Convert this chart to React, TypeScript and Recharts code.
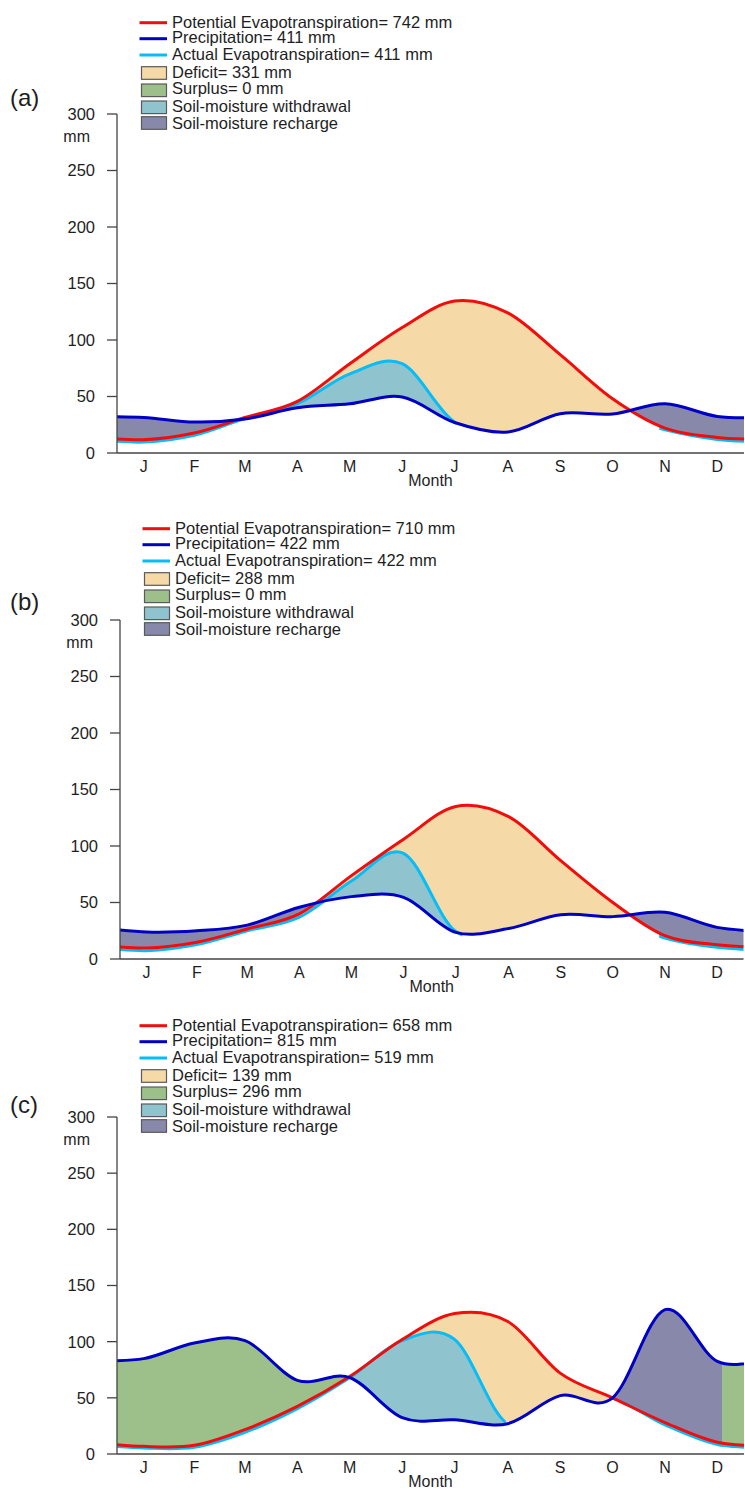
import { ComposedChart, Area, Line, XAxis, YAxis, ReferenceArea } from 'recharts'

const MONTHS = ['J', 'F', 'M', 'A', 'M', 'J', 'J', 'A', 'S', 'O', 'N', 'D']
const MONTH_START = [0, 31, 59, 90, 120, 151, 181, 212, 243, 273, 304, 334, 365]
const MID_DAY = [15.5, 45, 74.5, 105, 135.5, 166, 196.5, 227.5, 258, 288.5, 319, 349.5]
const Y_TICKS = [0, 50, 100, 150, 200, 250, 300]

// (a)
const PET_A = [11.8, 17.7, 31.5, 45.7, 79, 111, 134.5, 124, 87, 48, 22, 13.8]
const PREC_A = [31.5, 27.4, 30, 40, 43.5, 49.5, 27, 18.6, 34.8, 34.5, 43.6, 32.4]
const AET_A = [9.7, 15.6, 30.5, 43.6, 70, 79, 27.5, 18.6, 34.8, 34.5, 20.5, 12]
const TOTALS_A = [742, 411, 411, 331, 0]
// day ranges: crossings of P and PET, end of soil-moisture withdrawal;
// aet: false where the AET trace sits hidden under another line
const ZONES_A = [
  { kind: 'recharge', from: 0, to: 66 },
  { kind: 'withdraw', from: 66, to: 197 },
  { kind: 'deficit', from: 197, to: 302, aet: false },
  { kind: 'recharge', from: 302, to: 316, aet: false },
  { kind: 'recharge', from: 316, to: 365 },
]

// (b)
const PET_B = [9.7, 14.8, 26.6, 39.9, 73.8, 106, 135, 126, 87, 50, 20.6, 12.7]
const PREC_B = [23.9, 25, 30, 45.8, 55.2, 54.6, 23.6, 27, 39.2, 37.5, 41.3, 28]
const AET_B = [7.4, 12.7, 25, 37, 69, 93.5, 24.5, 27, 39.2, 37.5, 18.5, 10.3]
const TOTALS_B = [710, 422, 422, 288, 0]
const ZONES_B = [
  { kind: 'recharge', from: 0, to: 112.5 },
  { kind: 'withdraw', from: 112.5, to: 200 },
  { kind: 'deficit', from: 200, to: 300.5, aet: false },
  { kind: 'recharge', from: 300.5, to: 316, aet: false },
  { kind: 'recharge', from: 316, to: 365 },
]

// (c)
const PET_C = [6.8, 7.7, 21.7, 42.4, 69, 102, 125, 118, 72, 50, 28, 10.4]
const PREC_C = [84.9, 98.8, 101, 65.6, 68, 32.3, 30.5, 27, 52, 50, 128.5, 82.5]
const AET_C = [5.3, 6, 19.3, 40.4, 68, 101, 102, 27, 52, 49.5, 26, 8.5]
const TOTALS_C = [658, 815, 519, 139, 296]
const ZONES_C = [
  { kind: 'surplus', from: 0, to: 134 },
  { kind: 'withdraw', from: 134, to: 226 },
  { kind: 'deficit', from: 226, to: 287, aet: false },
  { kind: 'recharge', from: 287, to: 352.5 },
  { kind: 'surplus', from: 352.5, to: 365 },
]

const PET_COLOR = '#f20d0d'
const PREC_COLOR = '#0000c4'
const AET_COLOR = '#08bdf7'
const DEFICIT = '#f5d9a7'
const SURPLUS = '#9dc08b'
const WITHDRAWAL = '#8fc4ce'
const RECHARGE = '#8889aa'
const AXIS = '#444'
const TEXT = '#1e1e1e'

type Zone = { kind: string; from: number; to: number; aet?: boolean }

// Catmull-Rom through the points (d3 curveCardinal, tension 0), written out since d3 is not importable
function catmullRom(context: any) {
  let xs: number[] = []
  let ys: number[] = []
  let line = NaN
  return {
    areaStart() { line = 0 },
    areaEnd() { line = NaN },
    lineStart() { xs = []; ys = [] },
    lineEnd() {
      const n = xs.length
      if (n) {
        if (line) context.lineTo(xs[0], ys[0])
        else context.moveTo(xs[0], ys[0])
        for (let i = 0; i < n - 1; i++) {
          const p = Math.max(i - 1, 0)
          const q = Math.min(i + 2, n - 1)
          context.bezierCurveTo(
            xs[i] + (xs[i + 1] - xs[p]) / 6, ys[i] + (ys[i + 1] - ys[p]) / 6,
            xs[i + 1] - (xs[q] - xs[i]) / 6, ys[i + 1] - (ys[q] - ys[i]) / 6,
            xs[i + 1], ys[i + 1],
          )
        }
      }
      if (line || (line !== 0 && n === 1)) context.closePath()
      line = 1 - line
    },
    point(x: number, y: number) { xs.push(+x); ys.push(+y) },
  }
}

// Dec copied in front of Jan and Jan after Dec, so the curves run across the year ends
function buildRows(pet: number[], prec: number[], aet: number[]) {
  const order = [11, 0, 1, 2, 3, 4, 5, 6, 7, 8, 9, 10, 11, 0]
  return order.map((m, i) => {
    const shift = i === 0 ? -365 : i === 13 ? 365 : 0
    return { day: MID_DAY[m] + shift, pet: pet[m], prec: prec[m], aet: aet[m] }
  })
}

// the reference area is only used to get the zone rectangle in pixels, as a clip
// (widened by a hair so neighbouring zones leave no seam)
const clipShape = (id: string) => (props: any) => (
  <defs>
    <clipPath id={id}>
      <rect x={props.x - 0.6} y={props.y - 4} width={props.width + 1.2} height={props.height + 8} />
    </clipPath>
  </defs>
)

function LegendBlock({ left, totals }: { left: number; totals: number[] }) {
  const lines = [
    { color: PET_COLOR, text: `Potential Evapotranspiration= ${totals[0]} mm`, y: 22.7, ty: 27.6 },
    { color: PREC_COLOR, text: `Precipitation= ${totals[1]} mm`, y: 38.7, ty: 43 },
    { color: AET_COLOR, text: `Actual Evapotranspiration= ${totals[2]} mm`, y: 55, ty: 59.6 },
  ]
  const boxes = [
    { color: DEFICIT, text: `Deficit= ${totals[3]} mm`, y: 66.7, ty: 77.6 },
    { color: SURPLUS, text: `Surplus= ${totals[4]} mm`, y: 84, ty: 93.6 },
    { color: WITHDRAWAL, text: 'Soil-moisture withdrawal', y: 101, ty: 112 },
    { color: RECHARGE, text: 'Soil-moisture recharge', y: 116.7, ty: 128.6 },
  ]
  return (
    <svg width={745} height={140} style={{ position: 'absolute', left: 0, top: 0, pointerEvents: 'none' }}>
      {lines.map((l) => (
        <g key={l.text}>
          <line x1={left + 22.5} x2={left + 50} y1={l.y} y2={l.y} stroke={l.color} strokeWidth={3} />
          <text x={left + 55} y={l.ty} fontSize={16.5} fill={TEXT}>{l.text}</text>
        </g>
      ))}
      {boxes.map((b) => (
        <g key={b.text}>
          <rect x={left + 24.5} y={b.y} width={25} height={12.6} fill={b.color} stroke="#5a5a5a" strokeWidth={1.2} />
          <text x={left + 55} y={b.ty} fontSize={16.5} fill={TEXT}>{b.text}</text>
        </g>
      ))}
    </svg>
  )
}

interface PanelProps {
  id: string
  tag: string
  tagY: number
  top: number
  plotLeft: number
  plotRight: number
  plotHeight: number
  pet: number[]
  prec: number[]
  aet: number[]
  totals: number[]
  zones: Zone[]
}

function Panel({ id, tag, tagY, top, plotLeft, plotRight, plotHeight, pet, prec, aet, totals, zones }: PanelProps) {
  const rows = buildRows(pet, prec, aet)
  const height = 114 + plotHeight + 1 + 32 + 2
  const areaProps = { xAxisId: 'a', type: catmullRom as any, stroke: 'none', fillOpacity: 1, isAnimationActive: false, activeDot: false }
  const lineProps = { xAxisId: 'a', type: catmullRom as any, strokeWidth: 3, dot: false, activeDot: false, isAnimationActive: false }
  const clip = (i: number) => `url(#${id}-${i})`
  return (
    <div style={{ position: 'absolute', left: 0, top, width: 745, height }}>
      <ComposedChart width={745} height={height} data={rows} margin={{ top: 114, right: 745 - plotRight, bottom: 2, left: 0 }}>
        <XAxis
          xAxisId="b" type="number" dataKey="day" domain={[0, 365]} allowDataOverflow
          ticks={MID_DAY} interval={0} tickFormatter={(v: number) => MONTHS[MID_DAY.indexOf(v)]}
          axisLine={false} tickLine={false} tickSize={0} tickMargin={7} height={32}
          tick={{ fontSize: 16, fill: TEXT }}
          label={{ value: 'Month', position: 'insideBottom', offset: 0, fontSize: 16, fill: TEXT }}
        />
        <XAxis
          xAxisId="a" type="number" dataKey="day" domain={[0, 365]} allowDataOverflow
          ticks={MONTH_START} interval={0} tick={false} tickSize={8} height={1}
          stroke={AXIS} strokeWidth={1.3}
        />
        <YAxis
          type="number" domain={[0, 300]} ticks={Y_TICKS} interval={0} width={plotLeft}
          tickSize={10} tickMargin={12} stroke={AXIS} strokeWidth={1.3}
          tick={{ fontSize: 16.5, fill: TEXT }}
          label={({ viewBox }: any) => (
            <text x={viewBox.x + viewBox.width - 27} y={viewBox.y + 28} textAnchor="end" fontSize={16} fill={TEXT}>mm</text>
          )}
        />
        {zones.map((z, i) => (
          <ReferenceArea
            key={`clip-${i}`} xAxisId="a" x1={z.from} x2={z.to} y1={0} y2={300}
            ifOverflow="visible" shape={clipShape(`${id}-${i}`)}
          />
        ))}
        {zones.flatMap((z, i) => {
          if (z.kind === 'withdraw') {
            return [
              <Area key={`w-${i}`} {...areaProps} dataKey={(d: any) => [d.prec, d.aet]} fill={WITHDRAWAL} clipPath={clip(i)} />,
              <Area key={`d-${i}`} {...areaProps} dataKey={(d: any) => [d.aet, d.pet]} fill={DEFICIT} clipPath={clip(i)} />,
            ]
          }
          if (z.kind === 'deficit') {
            return [<Area key={`d-${i}`} {...areaProps} dataKey={(d: any) => [d.prec, d.pet]} fill={DEFICIT} clipPath={clip(i)} />]
          }
          return [
            <Area
              key={`r-${i}`} {...areaProps} dataKey={(d: any) => [d.pet, d.prec]}
              fill={z.kind === 'surplus' ? SURPLUS : RECHARGE} clipPath={clip(i)}
            />,
          ]
        })}
        {/* AET drawn as a stroke-only Area per zone, because Line overrides its own clip-path */}
        {zones.map((z, i) =>
          z.aet === false ? null : (
            <Area
              key={`aet-${i}`} {...areaProps} dataKey="aet" fill="none"
              stroke={AET_COLOR} strokeWidth={3} clipPath={clip(i)}
            />
          )
        )}
        <Line {...lineProps} dataKey="pet" stroke={PET_COLOR} />
        <Line {...lineProps} dataKey="prec" stroke={PREC_COLOR} />
      </ComposedChart>
      <LegendBlock left={plotLeft} totals={totals} />
      <svg width={60} height={130} style={{ position: 'absolute', left: 0, top: 0 }}>
        <text x={10} y={tagY} fontSize={24} fill={TEXT}>{tag}</text>
      </svg>
    </div>
  )
}

export default function App() {
  return (
    <div style={{ position: 'absolute', left: 0, top: 0, width: 745, height: 1489, background: '#fff', fontFamily: '"Liberation Sans", Arial, sans-serif' }}>
      <Panel id="pa" tag="(a)" tagY={106} top={0} plotLeft={117} plotRight={744} plotHeight={339} pet={PET_A} prec={PREC_A} aet={AET_A} totals={TOTALS_A} zones={ZONES_A} />
      <Panel id="pb" tag="(b)" tagY={104.4} top={505.6} plotLeft={120} plotRight={743.5} plotHeight={339} pet={PET_B} prec={PREC_B} aet={AET_B} totals={TOTALS_B} zones={ZONES_B} />
      <Panel id="pc" tag="(c)" tagY={109.7} top={1003.3} plotLeft={117} plotRight={744} plotHeight={337} pet={PET_C} prec={PREC_C} aet={AET_C} totals={TOTALS_C} zones={ZONES_C} />
    </div>
  )
}
